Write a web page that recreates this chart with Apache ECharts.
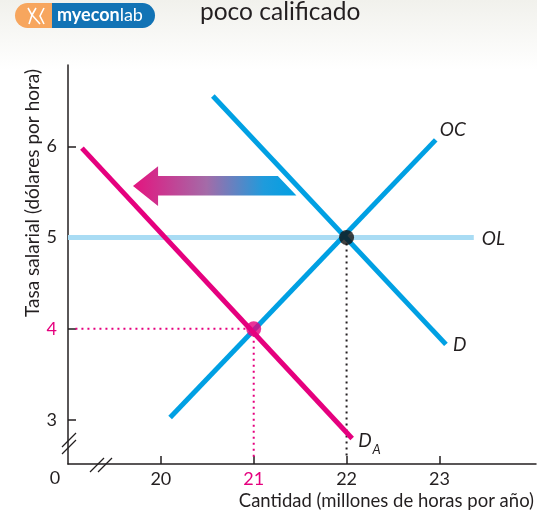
<!DOCTYPE html>
<html>
<head>
<meta charset="utf-8">
<script src="https://cdn.jsdelivr.net/npm/echarts@6/dist/echarts.min.js"></script>
<style>
  html, body { margin: 0; padding: 0; background: #fff; }
  #main { width: 537px; height: 518px; }
</style>
</head>
<body>
<div id="main"></div>
<script>
// ===== datos =====
const xTicks = [20, 21, 22, 23]
const yTicks = [3, 4, 5, 6]
const xMin = 19, xMax = 24.04
const yMin = 2.52, yMax = 6.89
const lineaOC = [[20.1, 3.03], [22.96, 6.07]]
const lineaD = [[20.56, 6.55], [23.07, 3.83]]
const lineaDA = [[19.15, 5.98], [22.06, 2.8]]
const lineaOL = [[19, 5], [23.37, 5]]
const equilibrioInicial = [22, 5]
const equilibrioNuevo = [21, 4]
// flecha de desplazamiento (coordenadas de datos)
const flecha = [[19.7, 5.565], [19.97, 5.78], [19.97, 5.675], [21.26, 5.675], [21.46, 5.46], [19.97, 5.46], [19.97, 5.345]]

const ROSA = '#e5007e'
const AZUL = '#00a0e3'
const AZUL_CLARO = '#a9dcf4'
const TINTA = '#231f20'
const FUENTE = 'Lato, "Noto Sans", sans-serif'

const chart = echarts.init(document.getElementById('main'))

function rotulo(texto, distancia, offset) {
  return {
    show: true,
    formatter: texto,
    distance: distancia,
    offset: offset,
    fontFamily: FUENTE,
    fontStyle: 'italic',
    fontSize: 19,
    color: TINTA
  }
}

function recta(datos, color, etiqueta) {
  return {
    type: 'line',
    data: datos,
    symbol: 'none',
    silent: true,
    animation: false,
    z: 2,
    lineStyle: { color: color, width: 5, cap: 'butt' },
    endLabel: etiqueta
  }
}

function punteada(datos, color) {
  return {
    type: 'line',
    data: datos,
    symbol: 'none',
    silent: true,
    animation: false,
    z: 1,
    lineStyle: { color: color, width: 2, type: [2, 4] }
  }
}

const option = {
  backgroundColor: '#fff',
  animation: false,
  title: {
    text: 'poco calificado',
    left: 200,
    top: 0,
    padding: 0,
    textStyle: { fontFamily: FUENTE, fontSize: 24.5, fontWeight: 'normal', color: TINTA }
  },
  grid: { left: 68, right: 0, top: 65, bottom: 54 },
  xAxis: {
    type: 'value',
    min: xMin,
    max: xMax,
    name: 'Cantidad (millones de horas por año)',
    nameLocation: 'end',
    nameGap: -2,
    nameTextStyle: { fontFamily: FUENTE, fontSize: 18.5, color: TINTA, align: 'right', verticalAlign: 'top', padding: [28, 0, 0, 0] },
    splitLine: { show: false },
    axisLine: { lineStyle: { color: TINTA, width: 1.5 } },
    axisTick: { inside: true, length: 8, customValues: xTicks, lineStyle: { color: TINTA, width: 1.5 } },
    axisLabel: {
      customValues: xTicks,
      margin: 6,
      fontFamily: FUENTE,
      fontSize: 18,
      color: TINTA,
      formatter: v => v === equilibrioNuevo[0] ? '{p|' + v + '}' : String(v),
      rich: { p: { color: ROSA, fontFamily: FUENTE, fontSize: 18 } }
    }
  },
  yAxis: {
    type: 'value',
    min: yMin,
    max: yMax,
    splitLine: { show: false },
    axisLine: { lineStyle: { color: TINTA, width: 1.5 } },
    axisTick: { inside: true, length: 8, customValues: yTicks, lineStyle: { color: TINTA, width: 1.5 } },
    axisLabel: {
      customValues: yTicks,
      margin: 11,
      fontFamily: FUENTE,
      fontSize: 18,
      color: TINTA,
      formatter: v => v === equilibrioNuevo[1] ? '{p|' + v + '}' : String(v),
      rich: { p: { color: ROSA, fontFamily: FUENTE, fontSize: 18 } }
    }
  },
  series: [
    recta(lineaOL, AZUL_CLARO, rotulo('OL', 8, [0, 1])),
    punteada([equilibrioInicial, [equilibrioInicial[0], yMin + 0.06]], TINTA),
    punteada([[xMin + 0.08, equilibrioNuevo[1]], equilibrioNuevo], ROSA),
    punteada([equilibrioNuevo, [equilibrioNuevo[0], yMin + 0.06]], ROSA),
    recta(lineaD, AZUL, rotulo('D', 7, [0, 0])),
    recta(lineaOC, AZUL, rotulo('OC', 4, [0, -10])),
    recta(lineaDA, ROSA, {
      show: true,
      distance: 6,
      offset: [0, 5],
      formatter: '{d|D}{a|A}',
      rich: {
        d: { fontFamily: FUENTE, fontStyle: 'italic', fontSize: 19, color: TINTA, verticalAlign: 'top', lineHeight: 22 },
        a: { fontFamily: FUENTE, fontStyle: 'italic', fontSize: 13, color: TINTA, verticalAlign: 'top', padding: [12, 0, 0, 1] }
      }
    }),
    {
      type: 'custom',
      silent: true,
      clip: false,
      z: 3,
      data: [flecha[0]],
      renderItem: function (params, api) {
        const pts = flecha.map(p => api.coord(p))
        return {
          type: 'polygon',
          shape: { points: pts },
          style: {
            fill: new echarts.graphic.LinearGradient(0, 0, 1, 0, [
              { offset: 0, color: '#e4147f' },
              { offset: 0.45, color: '#a46ba8' },
              { offset: 0.8, color: '#1f9bdc' },
              { offset: 1, color: '#00a0e3' }
            ])
          }
        }
      }
    },
    {
      type: 'scatter',
      silent: true,
      z: 10,
      symbolSize: 15,
      data: [
        { value: equilibrioInicial, itemStyle: { color: '#111' } },
        { value: equilibrioNuevo, itemStyle: { color: ROSA } }
      ]
    }
  ]
}

chart.setOption(option)

// ===== adornos: logo, fondo, cortes de eje, "0", rótulo del eje y =====
const origen = chart.convertToPixel('grid', [xMin, yMin])
const ox = origen[0], oy = origen[1]
const corte = { stroke: TINTA, lineWidth: 1.3 }

chart.setOption({
  graphic: [
    {
      type: 'rect', z: -10, silent: true,
      shape: { x: 0, y: 0, width: 537, height: 70 },
      style: { fill: new echarts.graphic.LinearGradient(0, 0, 0, 1, [{ offset: 0, color: '#f1f1ec' }, { offset: 1, color: '#ffffff' }]) }
    },
    // logo
    { type: 'rect', shape: { x: 15, y: 3, width: 40, height: 25, r: [12.5, 0, 0, 12.5] }, style: { fill: '#f7a65e' } },
    { type: 'rect', shape: { x: 52, y: 3, width: 103, height: 25, r: [0, 12.5, 12.5, 0] }, style: { fill: '#1273b5' } },
    { type: 'polyline', shape: { points: [[28, 8], [32, 15], [29, 24]] }, style: { stroke: '#fff', lineWidth: 1.6, fill: null } },
    { type: 'polyline', shape: { points: [[36, 8], [32, 15], [40, 24]] }, style: { stroke: '#fff', lineWidth: 1.6, fill: null } },
    { type: 'polyline', shape: { points: [[44, 8], [40, 16], [44, 24]] }, style: { stroke: '#fff', lineWidth: 1.6, fill: null } },
    {
      type: 'text', x: 57, y: 15.5,
      style: {
        text: '{b|myecon}{l|lab}',
        verticalAlign: 'middle',
        rich: {
          b: { fontFamily: FUENTE, fontWeight: 'bold', fontSize: 18, fill: '#fff' },
          l: { fontFamily: FUENTE, fontSize: 18, fill: '#fff' }
        }
      }
    },
    // rótulo del eje vertical
    {
      type: 'text', x: 33, y: 193, rotation: Math.PI / 2,
      style: { text: 'Tasa salarial (dólares por hora)', fontFamily: FUENTE, fontSize: 19, fill: TINTA, align: 'center', verticalAlign: 'middle' }
    },
    // cero en el origen
    { type: 'text', x: ox - 13, y: oy + 14, style: { text: '0', fontFamily: FUENTE, fontSize: 18, fill: TINTA, align: 'center', verticalAlign: 'middle' } },
    // cortes del eje y
    { type: 'line', shape: { x1: ox - 6, y1: oy - 17, x2: ox + 8, y2: oy - 31 }, style: corte },
    { type: 'line', shape: { x1: ox - 6, y1: oy - 10, x2: ox + 8, y2: oy - 24 }, style: corte },
    // cortes del eje x
    { type: 'line', shape: { x1: ox + 22, y1: oy + 8, x2: ox + 36, y2: oy - 6 }, style: corte },
    { type: 'line', shape: { x1: ox + 30, y1: oy + 8, x2: ox + 44, y2: oy - 6 }, style: corte }
  ]
})
</script>
</body>
</html>
